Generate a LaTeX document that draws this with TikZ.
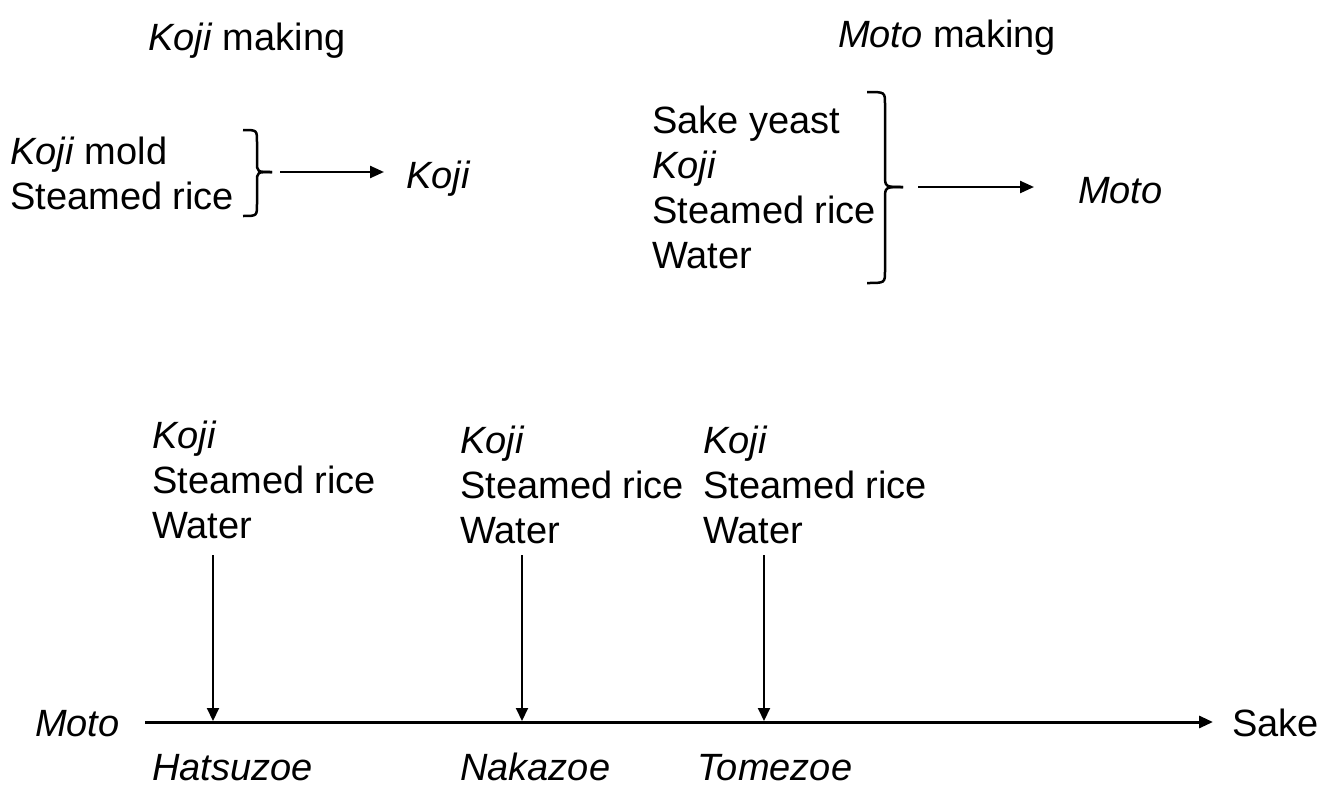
\documentclass[tikz,border=0pt]{standalone}
\usepackage{fontspec}
\setmainfont{Liberation Sans}
\usetikzlibrary{arrows.meta}
\begin{document}
\begin{tikzpicture}[x=1pt,y=-1pt,
  txt/.style={font=\fontsize{38}{45}\selectfont, inner sep=0pt, anchor=north west, align=left},
  lbl/.style={font=\fontsize{38}{45}\selectfont, inner sep=0pt, anchor=base west},
  arr/.style={line width=2.4pt, -{Triangle[length=14pt,width=12pt]}},
  varr/.style={line width=2pt, -{Triangle[length=13pt,width=12pt]}},
  mainarr/.style={line width=3pt, -{Triangle[length=14pt,width=12pt]}},
  bracestyle/.style={line width=2.5pt}]
\useasboundingbox (0,0) rectangle (1336,787);
% titles
\node[lbl] (kojititle) at (148,50) {\textit{Koji} making};
\node[lbl] (mototitle) at (838,47) {\textit{Moto} making};
% koji making
\node[txt] (kojiin) at (10,137) {\textit{Koji} mold\\Steamed rice};
\node[lbl] (kojiout) at (406,188) {\textit{Koji}};
\draw[bracestyle] (243,130) .. controls (257,130) .. (257,142) -- (257,162) .. controls (257,172) .. (272,172);
\draw[bracestyle] (272,172) .. controls (257,172) .. (257,182) -- (257,204) .. controls (257,216) .. (243,216);
\coordinate (ka) at (280,172);
\coordinate (kb) at (384,172);
\draw[arr] (ka) -- (kb);
% moto making
\node[txt] (motoin) at (652,106) {Sake yeast\\\textit{Koji}\\Steamed rice\\Water};
\node[lbl] (motoout) at (1078,203) {\textit{Moto}};
\draw[bracestyle] (867,92) .. controls (885,92) .. (885,104) -- (885,175) .. controls (885,187) .. (903,187);
\draw[bracestyle] (903,187) .. controls (885,187) .. (885,199) -- (885,271) .. controls (885,283) .. (867,283);
\coordinate (ma) at (918,187);
\coordinate (mb) at (1034,187);
\draw[arr] (ma) -- (mb);
% main process
\node[txt] (add1) at (152,421) {\textit{Koji}\\Steamed rice\\Water};
\node[txt] (add2) at (460,426) {\textit{Koji}\\Steamed rice\\Water};
\node[txt] (add3) at (703,426) {\textit{Koji}\\Steamed rice\\Water};
\node[lbl] (mstart) at (35,736) {\textit{Moto}};
\node[lbl] (sake) at (1232,736) {Sake};
\node[lbl] (hz) at (152,780) {\textit{Hatsuzoe}};
\node[lbl] (nz) at (460,780) {\textit{Nakazoe}};
\node[lbl] (tz) at (697,780) {\textit{Tomezoe}};
\coordinate (l0) at (145,722);
\coordinate (l1) at (1213,722);
\draw[mainarr] (l0) -- (l1);
\coordinate (v1a) at (213,555); \coordinate (v1b) at (213,721);
\coordinate (v2a) at (522,555); \coordinate (v2b) at (522,721);
\coordinate (v3a) at (764,555); \coordinate (v3b) at (764,721);
\draw[varr] (v1a) -- (v1b);
\draw[varr] (v2a) -- (v2b);
\draw[varr] (v3a) -- (v3b);
\end{tikzpicture}
\end{document}
